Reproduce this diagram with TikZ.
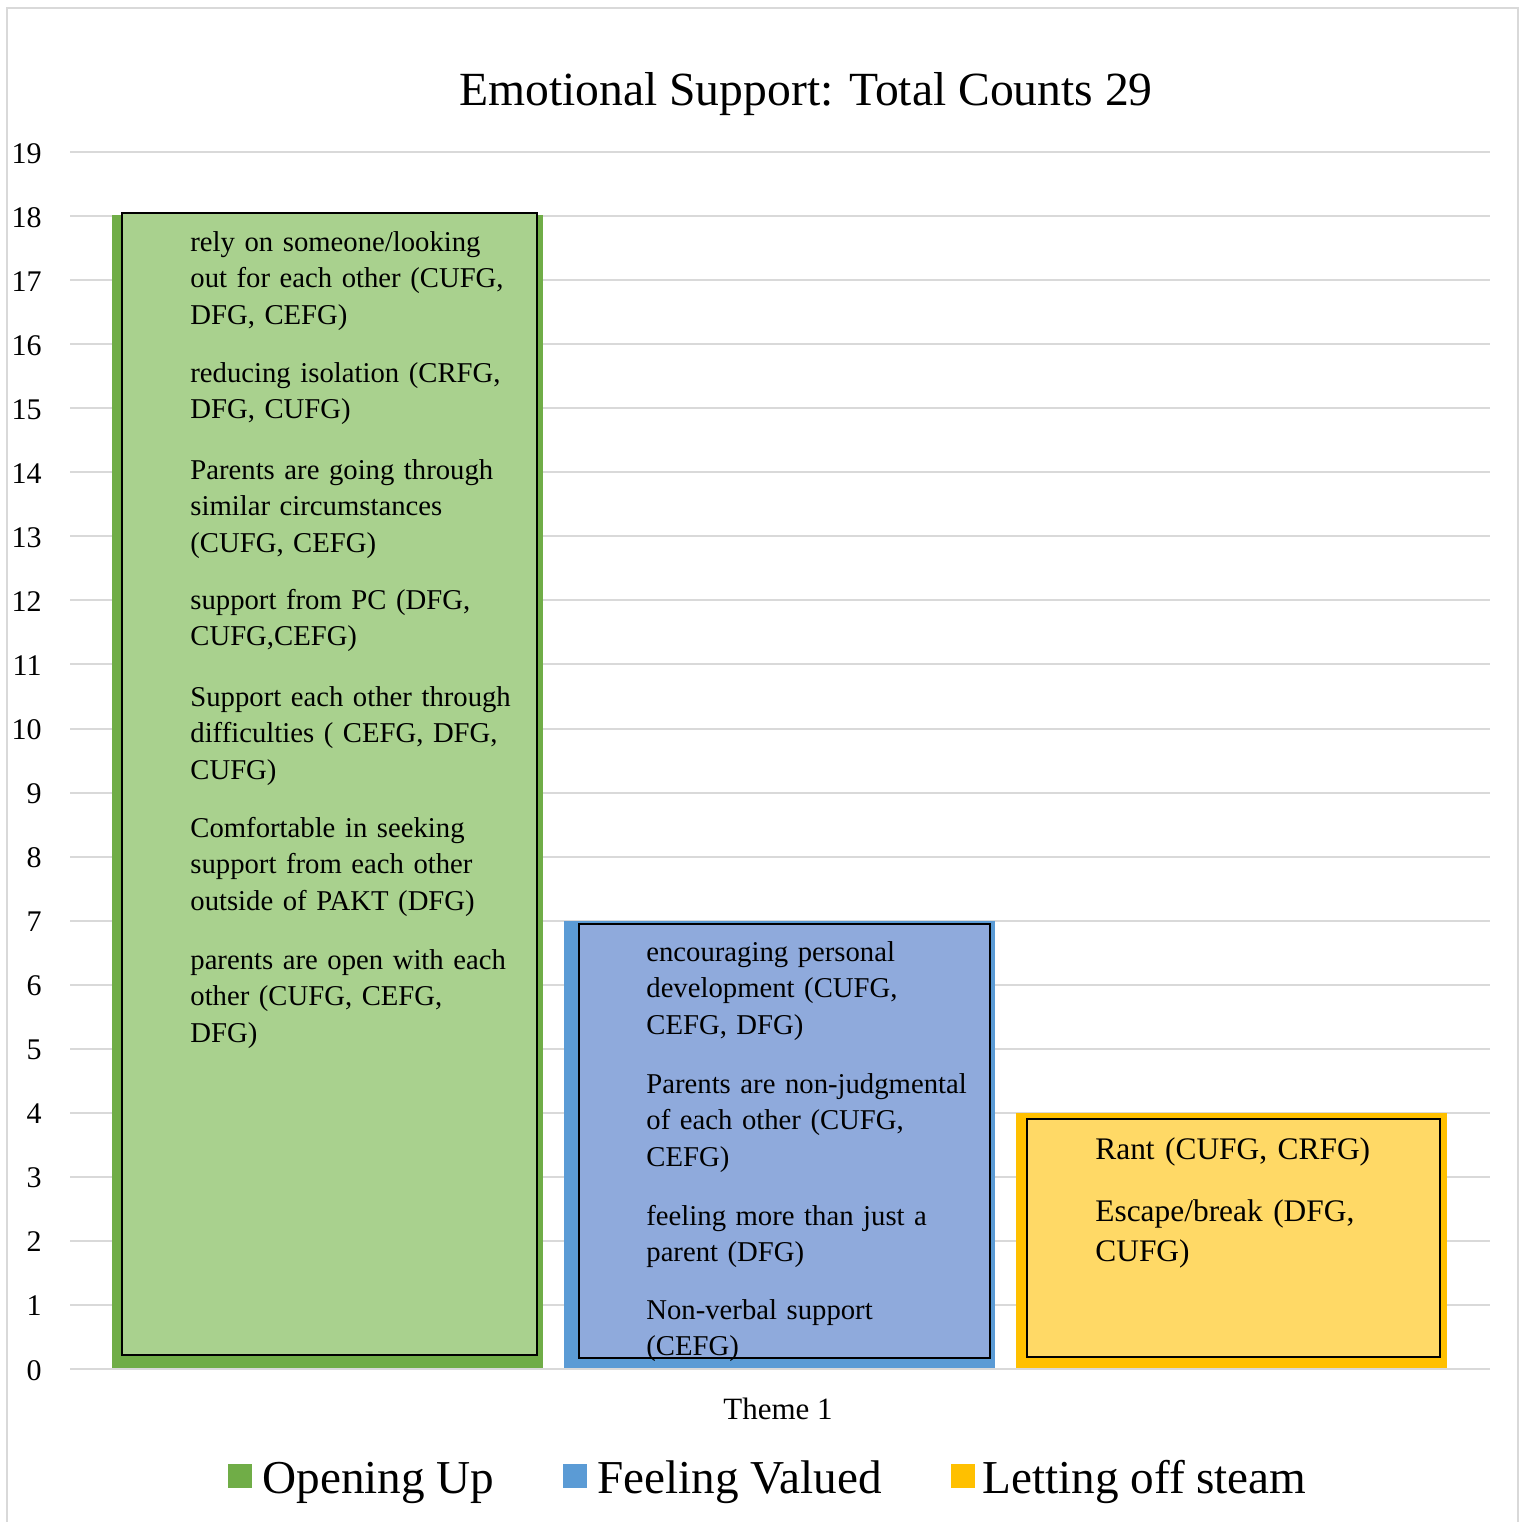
\documentclass[tikz,border=0pt]{standalone}
\usepackage{fontspec}
\setmainfont{Liberation Serif}
\definecolor{gridgray}{HTML}{D9D9D9}
\definecolor{opengreen}{HTML}{70AD47}
\definecolor{openlight}{HTML}{A9D18E}
\definecolor{valblue}{HTML}{5B9BD5}
\definecolor{vallight}{HTML}{8FAADC}
\definecolor{steamgold}{HTML}{FFC000}
\definecolor{steamlight}{HTML}{FFD966}
\begin{document}
\begin{tikzpicture}[x=0.5pt,y=-0.5pt,
  gridline/.style={gridgray,line width=1pt},
  ticklabel/.style={anchor=base east,inner sep=0pt,font=\fontsize{15}{18}\selectfont},
  innerbox/.style={draw=black,line width=1.1pt},
  bartext/.style={anchor=base west,inner sep=0pt,text width=220pt,align=left,
    font=\fontsize{14.35}{18.4}\selectfont},
  bigtext/.style={bartext,font=\fontsize{15.7}{20.3}\selectfont},
  legsq/.style={minimum size=12pt,inner sep=0pt},
  legtext/.style={anchor=base west,inner sep=0pt,font=\fontsize{23.6}{28}\selectfont}]
\useasboundingbox (0,0) rectangle (1523,1522);

% chart frame
\draw[gridgray,line width=1pt] (7,1522) -- (7,8) -- (1518,8) -- (1518,1522);

% title
\node[anchor=base,inner sep=0pt,font=\fontsize{23.8}{28}\selectfont] (title) at (806,105)
  {Emotional Support: Total Counts 29};

% horizontal gridlines and value labels
\foreach \k in {0,...,19}{
  \draw[gridline] (70,{1369-\k*64.05}) -- (1490,{1369-\k*64.05});
  \node[ticklabel] (tick\k) at (42,{1380-\k*64.05}) {\k};
}

% bars
\fill[opengreen] (112,1368) rectangle (543,215);
\fill[valblue]   (564,1368) rectangle (995,921);
\fill[steamgold] (1016,1368) rectangle (1447,1113);

% text boxes inside the bars
\draw[innerbox,fill=openlight] (122,213) rectangle (537,1355);
\draw[innerbox,fill=vallight] (579,924) rectangle (990,1358);
\draw[innerbox,fill=steamlight] (1027,1119) rectangle (1440,1357);

% Opening Up items
\node[bartext] (g1) at (190,251) {rely on someone/looking\\out for each other (CUFG,\\DFG, CEFG)};
\node[bartext] (g2) at (190,382) {reducing isolation (CRFG,\\DFG, CUFG)};
\node[bartext] (g3) at (190,479) {Parents are going through\\similar circumstances\\(CUFG, CEFG)};
\node[bartext] (g4) at (190,609) {support from PC (DFG,\\CUFG,CEFG)};
\node[bartext] (g5) at (190,706) {Support each other through\\difficulties ( CEFG, DFG,\\CUFG)};
\node[bartext] (g6) at (190,837) {Comfortable in seeking\\support from each other\\outside of PAKT (DFG)};
\node[bartext] (g7) at (190,969) {parents are open with each\\other (CUFG, CEFG,\\DFG)};

% Feeling Valued items
\node[bartext] (b1) at (646,961) {encouraging personal\\development (CUFG,\\CEFG, DFG)};
\node[bartext] (b2) at (646,1093) {Parents are non-judgmental\\of each other (CUFG,\\CEFG)};
\node[bartext] (b3) at (646,1225) {feeling more than just a\\parent (DFG)};
\node[bartext] (b4) at (646,1319) {Non-verbal support\\(CEFG)};

% Letting off steam items
\node[bigtext] (y1) at (1095,1159) {Rant (CUFG, CRFG)};
\node[bigtext] (y2) at (1095,1221) {Escape/break (DFG,\\CUFG)};

% category label
\node[anchor=base,inner sep=0pt,font=\fontsize{15.5}{18}\selectfont] (theme) at (778,1419) {Theme 1};

% legend
\node[legsq,fill=opengreen] (k1) at (239.5,1475.5) {};
\node[legtext] (l1) at (262,1493) {Opening Up};
\node[legsq,fill=valblue] (k2) at (575,1475.5) {};
\node[legtext] (l2) at (597,1493) {Feeling Valued};
\node[legsq,fill=steamgold] (k3) at (963,1475.5) {};
\node[legtext] (l3) at (982,1493) {Letting off steam};
\end{tikzpicture}
\end{document}
